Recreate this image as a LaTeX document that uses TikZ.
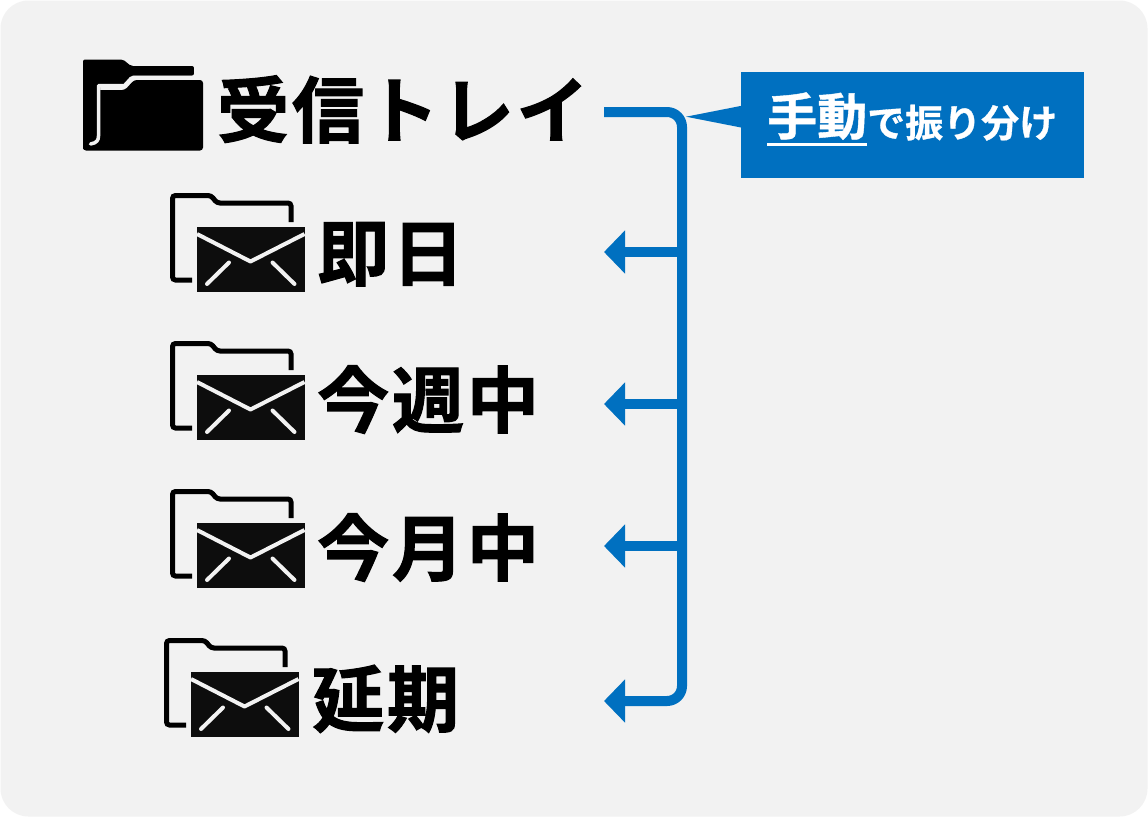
\documentclass[tikz,border=0pt]{standalone}
\usepackage{fontspec}
\usetikzlibrary{arrows.meta}
\newfontfamily\cjk{Noto Sans CJK JP Bold}[FakeBold=1.6,LetterSpace=4]
\newfontfamily\cjksmall{Noto Sans CJK JP Bold}[FakeBold=0.8]
\definecolor{panel}{HTML}{F2F2F2}
\definecolor{accent}{HTML}{0070C0}
\definecolor{ink}{HTML}{0D0D0D}
\tikzset{
  biglabel/.style={anchor=base west,inner sep=0pt,font=\cjk\fontsize{72}{72}\selectfont,text=black},
  flow/.style={draw=accent,line width=10pt,rounded corners=15pt},
  flowarrow/.style={flow,-{Triangle[length=21pt,width=42pt]}},
  callouttext/.style={anchor=base west,inner sep=0pt,text=white},
  mailfolder/.pic={
    \draw[black,line width=5pt,rounded corners=3pt] (22,87) -- (2.5,87) -- (2.5,2.5) -- (41,2.5) -- (47,10) -- (121,10) -- (121,29);
    \fill[ink] (27,34) rectangle (134.5,99);
    \draw[panel,line width=4pt,line join=round] (27,41) -- (80.5,68.5) -- (134.5,41);
    \draw[panel,line width=4pt,line cap=round] (37,91) -- (59,69.5);
    \draw[panel,line width=4pt,line cap=round] (124.5,91) -- (102.5,69.5);
  }
}
\begin{document}
\begin{tikzpicture}[x=1pt,y=-1pt]
\useasboundingbox (0,0) rectangle (1148,817);
\fill[white] (0,0) rectangle (1148,817);
\fill[panel,rounded corners=28pt] (0.5,0.5) rectangle (1147.5,816.5);
% inbox icon
\fill[black,rounded corners=2pt] (83,59.5) -- (123,59.5) -- (131,66) -- (194,66) -- (194,75.5) -- (131,75.5) -- (122,85.5) -- (100,85.5) -- (100,140) -- (83,150) -- cycle;
\fill[black,rounded corners=3pt] (83,150.5) -- (203,150.5) -- (203,80) -- (134,80) -- (125,90) -- (83,90) -- cycle;
\fill[black] (83,62) rectangle (100,146);
\draw[panel,line width=3.5pt,line cap=round,line join=round] (90.5,144) .. controls (97,143) and (98.5,140) .. (98.5,136) -- (98.5,85.5) -- (125,85.5) -- (134,77.5) -- (203,77.5);
\fill[panel] (194,60) rectangle (204,79);
% folders
\pic at (170,193) {mailfolder};
\pic at (170,341) {mailfolder};
\pic at (170,489) {mailfolder};
\pic at (164,638) {mailfolder};
% labels
\node[biglabel] (inbox) at (217,137) {受信トレイ};
\node[biglabel] (today) at (317,280) {即日};
\node[biglabel] (week) at (317,427) {今週中};
\node[biglabel] (month) at (317,575) {今月中};
\node[biglabel] (later) at (312,726) {延期};
% connectors
\coordinate (src) at (604,112);
\coordinate (dtoday) at (604,252);
\coordinate (dweek) at (604,404);
\coordinate (dmonth) at (604,546);
\coordinate (dlater) at (604,701);
\coordinate (trunktop) at (682,112);
\coordinate (trunkbot) at (682,701);
\draw[flowarrow] (src) -- (trunktop) -- (trunkbot) -- (dlater);
\draw[flowarrow,rounded corners=0pt] (682,252) -- (dtoday);
\draw[flowarrow,rounded corners=0pt] (682,404) -- (dweek);
\draw[flowarrow,rounded corners=0pt] (682,546) -- (dmonth);
% callout
\node[fill=accent,minimum width=343pt,minimum height=106pt,inner sep=0pt,anchor=north west] (callout) at (741,72) {};
\fill[accent] (686,116.7) -- (742,105.7) -- (742,127.7) -- cycle;
\node[callouttext,font=\cjksmall\fontsize{50}{50}\selectfont] (manual) at (767,135) {手動};
\node[callouttext,font=\cjksmall\fontsize{38}{38}\selectfont] (rest) at (867,137) {で振り分け};
\draw[white,line width=3pt] (767,144) -- (867,144);
\end{tikzpicture}
\end{document}
